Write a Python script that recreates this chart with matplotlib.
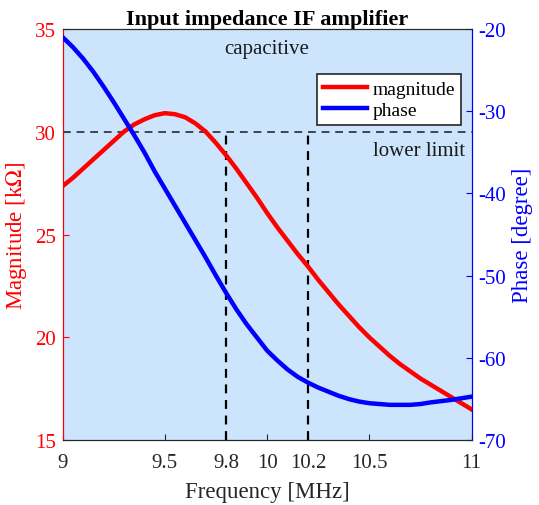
import numpy as np
import matplotlib
matplotlib.use('Agg')
import matplotlib.pyplot as plt
from matplotlib.lines import Line2D

plt.rcParams['font.family'] = ['Liberation Serif', 'DejaVu Serif']
plt.rcParams['mathtext.fontset'] = 'stix'
plt.rcParams['axes.unicode_minus'] = False

# data
freq = [9.00, 9.05, 9.10, 9.15, 9.20, 9.25, 9.30, 9.35, 9.40, 9.45, 9.50,
        9.55, 9.60, 9.65, 9.70, 9.75, 9.80, 9.85, 9.90, 9.95, 10.00,
        10.05, 10.10, 10.15, 10.20, 10.25, 10.30, 10.35, 10.40, 10.45, 10.50,
        10.55, 10.60, 10.65, 10.70, 10.75, 10.80, 10.85, 10.90, 10.95, 11.00]
magnitude = [27.35, 27.75, 28.2, 28.65, 29.1, 29.55, 30.0, 30.35, 30.6, 30.8, 30.9,
             30.85, 30.7, 30.4, 30.0, 29.45, 28.85, 28.2, 27.5, 26.8, 26.05,
             25.35, 24.7, 24.05, 23.45, 22.8, 22.2, 21.6, 21.05, 20.5, 20.0,
             19.55, 19.1, 18.7, 18.35, 18.0, 17.7, 17.4, 17.1, 16.8, 16.5]
phase = [-21.0, -22.2, -23.6, -25.2, -27.0, -28.9, -30.9, -32.9, -35.0, -37.3, -39.4,
         -41.5, -43.6, -45.7, -47.8, -50.0, -52.1, -54.1, -55.9, -57.5, -59.1,
         -60.3, -61.4, -62.3, -63.0, -63.6, -64.1, -64.6, -65.0, -65.3, -65.5,
         -65.6, -65.7, -65.7, -65.7, -65.6, -65.4, -65.25, -65.1, -64.9, -64.7]
lower_limit = 30
limit_freqs = [9.8, 10.2]
xticks = [9, 9.5, 9.8, 10, 10.2, 10.5, 11]
xticklabels = ['9', '9.5', '9.8', '10', '10.2', '10.5', '11']

red = '#ff0000'
blue = '#0000ff'
dark = '#262626'

fig = plt.figure(figsize=(5.39, 5.06), dpi=100)
ax = fig.add_axes([0.116, 0.128, 0.759, 0.813])
ax.set_facecolor('#cce5fc')
ax2 = ax.twinx()

ax.plot(freq, magnitude, color=red, linewidth=3.2, zorder=3)
ax2.plot(freq, phase, color=blue, linewidth=3.2, zorder=3)

ax.axhline(lower_limit, color='#3c4650', linestyle=(0, (4, 3)), linewidth=1.4, zorder=2)
for f in limit_freqs:
    ax.plot([f, f], [15, lower_limit], color='black', linestyle=(0, (4, 3)), linewidth=1.6, zorder=2)

ax.set_xlim(9, 11)
ax.set_ylim(15, 35)
ax2.set_ylim(-70, -20)
ax.set_xticks(xticks)
ax.set_xticklabels(xticklabels)
ax.set_yticks([15, 20, 25, 30, 35])
ax2.set_yticks([-70, -60, -50, -40, -30, -20])

ax.tick_params(axis='x', direction='in', labelsize=15, colors=dark, length=4, pad=9)
ax.tick_params(axis='y', direction='in', labelsize=15, colors=red, length=4, pad=5)
ax2.tick_params(axis='y', direction='in', labelsize=15, colors=blue, length=4, pad=5)

ax.spines['left'].set_color(red)
ax2.spines['left'].set_color(red)
ax2.spines['right'].set_color(blue)
for a in (ax, ax2):
    a.spines['top'].set_color(dark)
    a.spines['bottom'].set_color(dark)

ax.set_xlabel('Frequency [MHz]', fontsize=16.5, color=dark, labelpad=7)
ax.set_ylabel('Magnitude [k$\\Omega$]', fontsize=16.5, color=red, labelpad=4)
ax2.set_ylabel('Phase [degree]', fontsize=16.5, color=blue, labelpad=4)
ax.set_title('Input impedance IF amplifier', fontsize=16, fontweight='bold', pad=2)

ax.text(10.0, 34.05, 'capacitive', fontsize=15, ha='center', va='center', color='#1a1a1a')
ax.text(10.97, 29.1, 'lower limit', fontsize=15, ha='right', va='center', color='#1a1a1a')

handles = [Line2D([], [], color=red, linewidth=3.2), Line2D([], [], color=blue, linewidth=3.2)]
leg = ax2.legend(handles, ['magnitude', 'phase'], loc='upper right',
                 bbox_to_anchor=(0.975, 0.89), fontsize=14, fancybox=False,
                 framealpha=1, edgecolor=dark, handlelength=2.3,
                 borderpad=0.3, labelspacing=0.2, handletextpad=0.3, borderaxespad=0)
leg.get_frame().set_linewidth(1.2)

fig.savefig('out.png', dpi=100)
